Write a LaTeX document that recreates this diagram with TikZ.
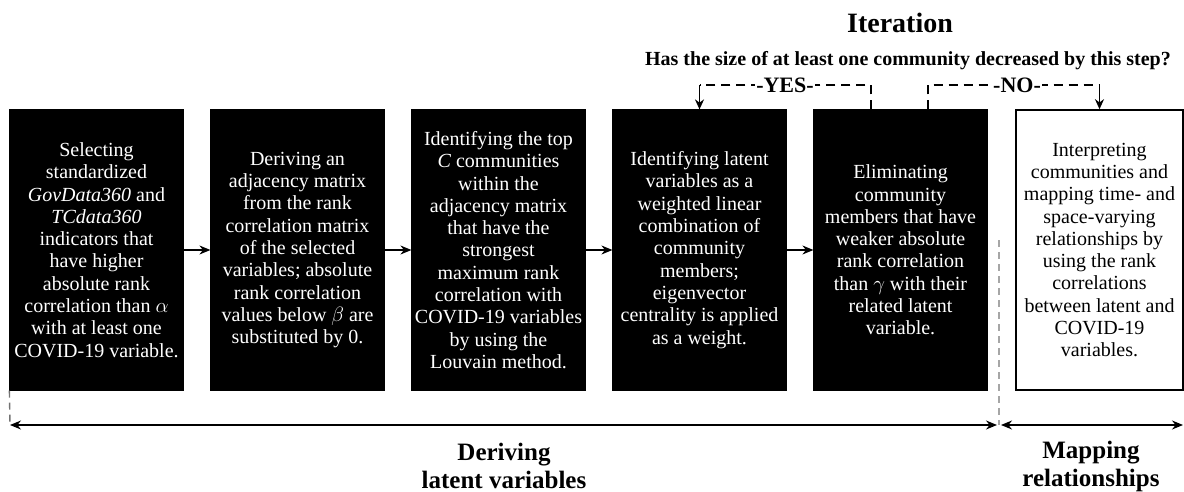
\documentclass[tikz,border=0pt]{standalone}
\usepackage{fontspec}
\setmainfont{Liberation Serif}
\usetikzlibrary{arrows.meta,calc}
\begin{document}
\begin{tikzpicture}[x=1pt,y=-1pt,
  box/.style={draw=black, line width=1.2pt, fill=black, text=white,
    minimum width=173pt, minimum height=280pt, inner sep=0pt, align=center,
    font=\fontsize{20}{22.3}\selectfont},
  wbox/.style={box, fill=white, text=black, line width=1.6pt, minimum width=167pt},
  flow/.style={line width=1.4pt, -{Stealth[length=11pt,width=9pt]}},
  biarrow/.style={line width=1.4pt, {Stealth[length=11pt,width=9pt]}-{Stealth[length=11pt,width=9pt]}},
  loopline/.style={line width=1.6pt, dash pattern=on 9pt off 6pt},
  looptip/.style={line width=1.6pt, -{Stealth[length=10pt,width=9pt]}},
  guide/.style={line width=1.4pt, dash pattern=on 7pt off 5pt},
  title/.style={font=\fontsize{25}{28}\selectfont\bfseries, align=center},
  question/.style={font=\fontsize{20}{22}\selectfont\bfseries},
  yesno/.style={font=\fontsize{22}{24}\selectfont\bfseries, fill=white, inner sep=1pt}
]
\useasboundingbox (0,0) rectangle (1184,492);

\node[box] (b1) at (96.5,250) {Selecting\\standardized\\\textit{GovData360} and\\\textit{TCdata360}\\indicators that\\have higher\\absolute rank\\correlation than $\alpha$\\with at least one\\COVID-19 variable.};
\node[box] (b2) at (297.5,250) {Deriving an\\adjacency matrix\\from the rank\\correlation matrix\\of the selected\\variables; absolute\\rank correlation\\values below $\beta$ are\\substituted by 0.};
\node[box] (b3) at (498.5,250) {Identifying the top\\\textit{C} communities\\within the\\adjacency matrix\\that have the\\strongest\\maximum rank\\correlation with\\COVID-19 variables\\by using the\\Louvain method.};
\node[box] (b4) at (699.5,250) {Identifying latent\\variables as a\\weighted linear\\combination of\\community\\members;\\eigenvector\\centrality is applied\\as a weight.};
\node[box] (b5) at (900.5,250) {Eliminating\\community\\members that have\\weaker absolute\\rank correlation\\than $\gamma$ with their\\related latent\\variable.};
\node[wbox] (b6) at (1099.5,250) {Interpreting\\communities and\\mapping time- and\\space-varying\\relationships by\\using the rank\\correlations\\between latent and\\COVID-19\\variables.};

\draw[flow] (b1) -- (b2);
\draw[flow] (b2) -- (b3);
\draw[flow] (b3) -- (b4);
\draw[flow] (b4) -- (b5);

% titles
\node[title, font=\fontsize{28}{30}\selectfont\bfseries, anchor=base] (iter) at (900,33) {Iteration};
\node[question, anchor=base] (q) at (908,66) {Has the size of at least one community decreased by this step?};

% YES loop
\coordinate (ys) at ([xshift=-29.5pt]b5.north);
\coordinate (yt) at (ys |- 0,85);
\coordinate (yl) at (b4.north |- 0,85);
\draw[loopline] (ys) -- (yt) -- (yl);
\draw[looptip] (yl) -- (b4.north);
\node[yesno] (yes) at (785,85) {-YES-};

% NO loop
\coordinate (ns) at ([xshift=27.5pt]b5.north);
\coordinate (nt) at (ns |- 0,85);
\coordinate (nr) at (b6.north |- 0,85);
\draw[loopline] (ns) -- (nt) -- (nr);
\draw[looptip] (nr) -- (b6.north);
\node[yesno] (no) at (1017,85) {-NO-};

% bottom phase arrows
\coordinate (L) at (10,425);
\coordinate (M1) at (997,425);
\coordinate (M2) at (1001,425);
\coordinate (R) at (1183,425);
\coordinate (gl) at (b1.south west);
\coordinate (gm) at (999,240);
\coordinate (gmb) at (999,425);
\draw[guide, draw=black!55] (gl) -- (L);
\draw[guide, draw=black!35] (gm) -- (gmb);
\draw[biarrow] (L) -- (M1);
\draw[biarrow] (M2) -- (R);

\node[title] (dl) at (504,466) {Deriving\\latent variables};
\node[title] (mr) at (1091,466) {Mapping\\relationships};
\end{tikzpicture}
\end{document}
